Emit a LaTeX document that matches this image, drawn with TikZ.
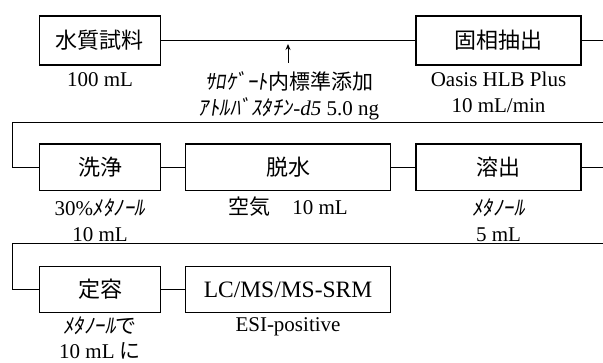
\documentclass[tikz,border=0pt]{standalone}
\usepackage{fontspec}
\setmainfont{Liberation Serif}
\newfontfamily\jp{Noto Sans CJK JP}
\newfontfamily\jpk[FakeSlant=0.15]{Noto Sans CJK JP}
\usetikzlibrary{arrows.meta}
\begin{document}
\begin{tikzpicture}[x=1pt,y=-1pt,
  box/.style={draw, line width=1.2pt, inner sep=0pt, font=\fontsize{22}{26}\selectfont},
  wbox/.style={box, minimum width=121.4pt},
  mbox/.style={box, minimum width=205.7pt},
  rbox/.style={box, minimum width=165pt},
  conn/.style={line width=1pt},
  lab/.style={inner sep=0pt, align=center, font=\fontsize{21}{26}\selectfont}]
\useasboundingbox (0,0) rectangle (603,363);
\clip (0,0) rectangle (603,363);
\fill[white] (0,0) rectangle (603,363);

% row 1
\node[wbox, minimum height=49pt] (b1) at (100,40.5) {\jp 水質試料};
\node[rbox, minimum height=49pt] (b2) at (498.5,40.5) {\jp 固相抽出};
% row 2
\node[wbox, minimum height=46.5pt] (b3) at (100,167.3) {\jp 洗浄};
\node[mbox, minimum height=46.5pt] (b4) at (288,167.3) {\jp 脱水};
\node[rbox, minimum height=46.5pt] (b5) at (498.5,167.3) {\jp 溶出};
% row 3
\node[wbox, minimum height=45.6pt] (b6) at (100,289.5) {\jp 定容};
\node[mbox, minimum height=45.6pt] (b7) at (288,289.5) {\fontsize{23.5}{26}\selectfont LC/MS/MS-SRM};

% labels
\node[lab] (l1) at (100,80) {100 mL};
\node[lab] (l2) at (498.5,92.5) {Oasis HLB Plus\\10 mL/min};
\node[lab] (lm) at (289,95.5) {{\jpk ｻﾛｹﾞｰﾄ}{\jp 内標準添加}\\{\jpk ｱﾄﾙﾊﾞｽﾀﾁﾝ}\textit{-d5} 5.0 ng};
\node[lab] (l3) at (100,220.5) {30\%{\jpk ﾒﾀﾉｰﾙ}\\10 mL};
\node[lab] (l4) at (288,207) {{\jp 空気}\hspace{22pt}10 mL};
\node[lab] (l5) at (498.5,220.5) {{\jpk ﾒﾀﾉｰﾙ}\\5 mL};
\node[lab, font=\fontsize{21}{25}\selectfont] (l6) at (100,338) {{\jpk ﾒﾀﾉｰﾙ}{\jp で}\\10 mL {\jp に}};
\node[lab] (l7) at (288,327) {ESI-positive};

% turn points
\coordinate (t1) at (12.7,122.7);
\coordinate (t2) at (12.7,244);
\coordinate (as) at (288,63);
\coordinate (ae) at (288,44);

% connectors
\draw[conn] (b1.east) -- (b2.west);
\draw[conn] (b2.east) -- ++(30,0) |- (t1) |- (b3.west);
\draw[conn] (b3.east) -- (b4.west);
\draw[conn] (b4.east) -- (b5.west);
\draw[conn] (b5.east) -- ++(30,0) |- (t2) |- (b6.west);
\draw[conn] (b6.east) -- (b7.west);
\draw[line width=1pt, -{Stealth[length=6pt,width=5pt]}] (as) -- (ae);
\end{tikzpicture}
\end{document}
